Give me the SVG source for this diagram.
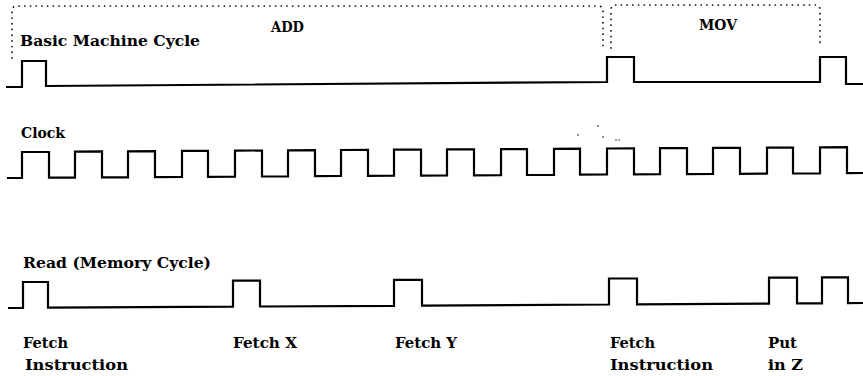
<svg xmlns="http://www.w3.org/2000/svg" width="863" height="376" viewBox="0 0 863 376">
<style>
.wave{fill:none;stroke:#000;stroke-width:2.2;stroke-linejoin:miter}
.dot{fill:none;stroke:#000;stroke-width:1.7;stroke-dasharray:0.1 5.6;stroke-linecap:round}
text{font-family:"DejaVu Serif","Liberation Serif",serif;font-size:14.5px;font-weight:bold;fill:#000}
.b{font-size:15px}
</style>
<rect width="863" height="376" fill="#fff"/>
<g id="cycle-boxes">
<path class="dot" d="M12,58 L12,11 Q12,6 17,6 L598,6 Q603,6 603,11 L603,48"/>
<path class="dot" d="M611,48 L611,10 Q611,5 616,5 L815,5 Q820,5 820,10 L820,46"/>
</g>
<g id="labels-top">
<text class="b" x="271" y="32" textLength="33" lengthAdjust="spacingAndGlyphs">ADD</text>
<text class="b" x="699" y="30" textLength="38" lengthAdjust="spacingAndGlyphs">MOV</text>
<text id="lbl-basic" x="20" y="46" textLength="180" lengthAdjust="spacingAndGlyphs">Basic Machine Cycle</text>
</g>
<g id="connectors">
<path id="wave-basic" class="wave" d="M6,87 L22,87 L22,61 L46,61 L46,86 L607,82 L607,57 L634,57 L634,82 L820,82 L820,57 L846,57 L846,84 L863,84"/>
<path id="wave-clock" class="wave" d="M7,178 L22,178 L22,152 L49,152 L49,177.7 L75,177.6 L75,151.6 L102,151.4 L102,177.4 L128,177.3 L128,151.3 L155,151.1 L155,177.1 L182,176.9 L182,150.9 L208,150.8 L208,176.8 L235,176.6 L235,150.6 L262,150.5 L262,176.5 L288,176.3 L288,150.3 L315,150.2 L315,176.2 L341,176 L341,150 L368,149.9 L368,175.9 L394,175.7 L394,149.7 L421,149.6 L421,175.6 L447,175.4 L447,149.4 L474,149.3 L474,175.3 L501,175.1 L501,149.1 L527,149 L527,175 L554,174.8 L554,148.8 L580,148.7 L580,174.7 L607,174.5 L607,148.5 L634,148.4 L634,174.4 L660,174.2 L660,148.2 L687,148.1 L687,174.1 L713,173.9 L713,147.9 L740,147.8 L740,173.8 L767,173.6 L767,147.6 L793,147.5 L793,173.5 L820,173.3 L820,147.3 L847,147.2 L847,173.2 L863,173"/>
<path id="wave-read" class="wave" d="M8,308 L23,308 L23,282 L48,282 L48,307.7 L233,306.7 L233,280.7 L260,280.7 L260,306.5 L394,305.8 L394,279.8 L422,279.8 L422,305.6 L609,304.5 L609,278.5 L637,278.5 L637,304.3 L769,303.6 L769,277.6 L797,277.6 L797,303.4 L822,303.3 L822,277.3 L848,277.3 L848,303.1 L863,303"/>
</g>
<g id="specks" fill="#000">
<circle cx="578" cy="135" r="0.8"/>
<circle cx="598" cy="126" r="0.8"/>
<circle cx="603" cy="137" r="0.8"/>
<circle cx="616" cy="140" r="0.7"/>
<circle cx="619" cy="140" r="0.7"/>
</g>
<g id="labels">
<text id="lbl-clock" x="21" y="138" textLength="44" lengthAdjust="spacingAndGlyphs">Clock</text>
<text id="lbl-read" x="23" y="268" textLength="188" lengthAdjust="spacingAndGlyphs">Read (Memory Cycle)</text>
<g id="n-fetch-instr-1">
<text x="23" y="348" textLength="45" lengthAdjust="spacingAndGlyphs">Fetch</text>
<text x="25" y="370" textLength="103" lengthAdjust="spacingAndGlyphs">Instruction</text>
</g>
<g id="n-fetch-x"><text x="233" y="348" textLength="64" lengthAdjust="spacingAndGlyphs">Fetch X</text></g>
<g id="n-fetch-y"><text x="395" y="348" textLength="62" lengthAdjust="spacingAndGlyphs">Fetch Y</text></g>
<g id="n-fetch-instr-2">
<text x="610" y="348" textLength="45" lengthAdjust="spacingAndGlyphs">Fetch</text>
<text x="610" y="370" textLength="103" lengthAdjust="spacingAndGlyphs">Instruction</text>
</g>
<g id="n-put-z">
<text x="768" y="348" textLength="29" lengthAdjust="spacingAndGlyphs">Put</text>
<text x="768" y="370" textLength="35" lengthAdjust="spacingAndGlyphs">in Z</text>
</g>
</g>
</svg>
